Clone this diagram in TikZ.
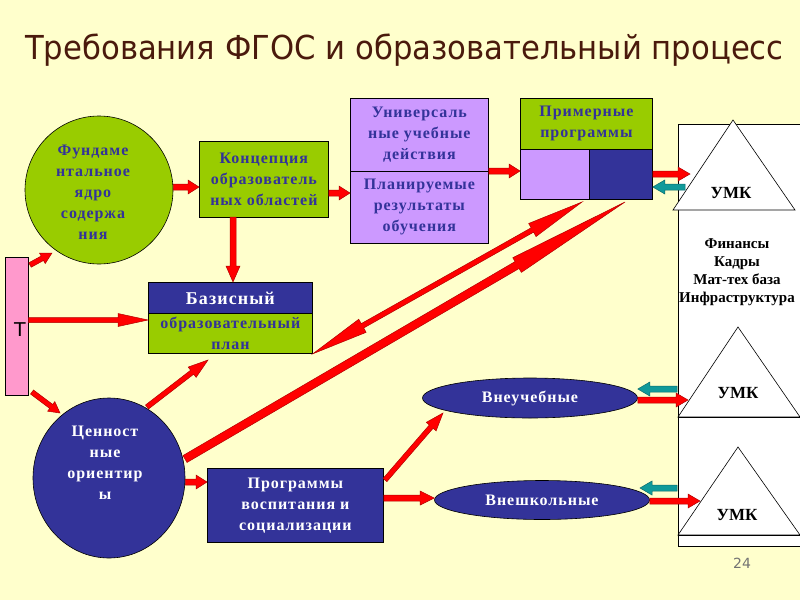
\documentclass[tikz,border=0pt]{standalone}
\usepackage{fontspec}
\setmainfont{Liberation Serif}
\newfontfamily\bxfont[LetterSpace=6]{Liberation Serif}
\newfontfamily\titlefont[FakeStretch=0.93]{DejaVu Sans}
\newfontfamily\numfont{DejaVu Sans}
\usetikzlibrary{arrows.meta,shapes.geometric,calc}
\definecolor{bgc}{HTML}{FFFFCC}
\definecolor{grn}{HTML}{99CC00}
\definecolor{lav}{HTML}{CC99FF}
\definecolor{dbl}{HTML}{333399}
\definecolor{pnk}{HTML}{FF99CC}
\definecolor{tealc}{HTML}{109A9A}
\definecolor{titc}{HTML}{4A1A0C}
\definecolor{arr}{HTML}{FF0000}
\tikzset{
  txt/.style={font=\bxfont\bfseries\fontsize{16}{21}\selectfont, align=center},
  boxbase/.style={draw=black, line width=0.8pt, anchor=north west, inner sep=0pt, txt},
  gbox/.style={boxbase, fill=grn, text=dbl},
  lbox/.style={boxbase, fill=lav, text=dbl},
  bbox/.style={boxbase, fill=dbl, text=white},
  blk/.style={fill=#1, draw=#1!70!black, line width=0.5pt, line join=miter},
  umk/.style={font=\bfseries\fontsize{17}{20}\selectfont, text=black},
  tri/.style={draw=black, line width=0.6pt, fill=white}
}
% block arrow: colour, from, to, half shaft width, head length, half head width
\newcommand{\barrow}[6]{%
  \coordinate (ba-A) at (#2);
  \coordinate (ba-B) at (#3);
  \coordinate (ba-H) at ($(ba-B)!#5!(ba-A)$);
  \path[blk=#1] ($(ba-A)!#4!90:(ba-B)$) -- ($(ba-H)!#4!90:(ba-B)$) -- ($(ba-H)!#6!90:(ba-B)$) -- (ba-B)
    -- ($(ba-H)!#6!-90:(ba-B)$) -- ($(ba-H)!#4!-90:(ba-B)$) -- ($(ba-A)!#4!-90:(ba-B)$) -- cycle;}
% double-headed block arrow
\newcommand{\dbarrow}[6]{%
  \coordinate (ba-A) at (#2);
  \coordinate (ba-B) at (#3);
  \coordinate (ba-H) at ($(ba-B)!#5!(ba-A)$);
  \coordinate (ba-G) at ($(ba-A)!#5!(ba-B)$);
  \path[blk=#1] (ba-A) -- ($(ba-G)!#6!-90:(ba-A)$) -- ($(ba-G)!#4!-90:(ba-A)$) -- ($(ba-H)!#4!90:(ba-B)$) -- ($(ba-H)!#6!90:(ba-B)$) -- (ba-B)
    -- ($(ba-H)!#6!-90:(ba-B)$) -- ($(ba-H)!#4!-90:(ba-B)$) -- ($(ba-G)!#4!90:(ba-A)$) -- ($(ba-G)!#6!90:(ba-A)$) -- cycle;}
\begin{document}
\begin{tikzpicture}[x=1pt,y=-1pt]
\fill[bgc] (0,0) rectangle (800,600);
\useasboundingbox (0,0) rectangle (800,600);

% title
\node[anchor=base west, text=titc, font=\titlefont\fontsize{33}{33}\selectfont, inner sep=0pt] (title) at (25,59) {Требования ФГОС и образовательный процесс};

% right panel
\draw[fill=white, line width=0.6pt] (801,124) -- (678,124) -- (678,546) -- (801,546);
\draw[tri] (733,120) -- (795,210) -- (673,210) -- cycle;
\draw[tri] (738,327) -- (800,417) -- (678,417) -- cycle;
\draw[line width=0.6pt] (678,417) -- (801,417);
\draw[tri] (738,447) -- (800,535) -- (678,535) -- cycle;
\draw[line width=0.6pt] (678,535) -- (801,535);
\node[umk] (umk1) at (731,193) {УМК};
\node[umk] (umk2) at (738,393) {УМК};
\node[umk] (umk3) at (737,515) {УМК};
\node[font=\bfseries\fontsize{15}{18}\selectfont, align=center, text=black] (res) at (737,272) {Финансы\\Кадры\\Мат-тех база\\Инфраструктура};
\coordinate (t1in) at (690,174);
\coordinate (t1out) at (685,187);
\coordinate (t2out) at (677,389);
\coordinate (t2in) at (688,400);
\coordinate (t3out) at (677,488);
\coordinate (t3in) at (700,501);

% left column
\node[draw=black, line width=0.6pt, fill=grn, circle, minimum size=148pt, inner sep=0pt] (fund) at (99,190) {};
\node[txt, text=dbl] (fundt) at (93,192) {Фундаме\\нтальное\\ядро\\содержа\\ния};
\node[draw=black, line width=0.6pt, fill=pnk, anchor=north west, minimum width=23pt, minimum height=138pt, inner sep=0pt] (pink) at (5,257) {};
\node[font=\fontsize{19}{20}\selectfont\numfont] (pinkt) at (20,330) {Т};
\node[draw=black, line width=0.6pt, fill=dbl, ellipse, minimum width=152pt, minimum height=160pt, inner sep=0pt] (cen) at (109,478) {};
\node[txt, text=white] (cent) at (105,463) {Ценност\\ные\\ориентир\\ы};

% boxes
\node[gbox, minimum width=129pt, minimum height=76pt] (konc) at (199,141) {Концепция\\образователь\\ных областей};
\node[lbox, minimum width=138pt, minimum height=73pt] (univ) at (350,98) {Универсаль\\ные учебные\\действия};
\node[lbox, minimum width=138pt, minimum height=72pt] (plan) at (350,171) {Планируемые\\результаты\\обучения};
\node[gbox, minimum width=132pt, minimum height=51pt] (prim) at (520,98) {Примерные\\программы};
\node[lbox, minimum width=69pt, minimum height=50pt] (primA) at (520,149) {};
\node[bbox, minimum width=63pt, minimum height=50pt] (primB) at (589,149) {};
\node[bbox, minimum width=164pt, minimum height=31pt, font=\bxfont\bfseries\fontsize{18}{21}\selectfont] (baz) at (148,282) {Базисный};
\node[gbox, minimum width=164pt, minimum height=40pt] (baz2) at (148,313) {образовательный\\план};
\node[bbox, minimum width=176pt, minimum height=74pt] (prog) at (207,468) {Программы\\воспитания и\\социализации};
\node[draw=black, line width=0.6pt, fill=dbl, ellipse, minimum width=215pt, minimum height=40pt, inner sep=0pt, txt, text=white] (vneu) at (530,398) {Внеучебные};
\node[draw=black, line width=0.6pt, fill=dbl, ellipse, minimum width=215pt, minimum height=39pt, inner sep=0pt, txt, text=white] (vnesh) at (542,500) {Внешкольные};

% page number
\node[font=\numfont\fontsize{14}{14}\selectfont, text=black!55] (pg) at (742,563) {24};

% arrows
\barrow{arr}{fund.east |- 0,187}{konc.west |- 0,187}{3pt}{11pt}{7pt}
\barrow{arr}{konc.east |- 0,193}{univ.west |- 0,193}{3pt}{11pt}{7pt}
\barrow{arr}{plan.north east}{prim.west |- plan.north}{3pt}{11pt}{7pt}
\barrow{arr}{233,217}{baz.north -| 233,0}{3pt}{16pt}{7pt}
\barrow{arr}{30,265}{52,253}{2.5pt}{11pt}{6pt}
\barrow{arr}{pink.east |- 0,320}{baz2.west |- 0,320}{2.5pt}{30pt}{6.5pt}
\barrow{arr}{32,392}{60,413}{2.5pt}{11pt}{6pt}
\barrow{arr}{147,407}{208,360}{2.5pt}{20pt}{6.5pt}
\barrow{arr}{cen.east |- 0,482}{prog.west |- 0,482}{3pt}{11pt}{7pt}
\barrow{arr}{385,480}{443,413}{2.5pt}{18pt}{6.5pt}
\barrow{arr}{prog.east |- 0,498}{vnesh.west |- 0,498}{3pt}{14pt}{7pt}
\dbarrow{arr}{baz2.south east}{582,202}{2.5pt}{57pt}{7.5pt}
\barrow{arr}{185,459}{625,202}{4pt}{125pt}{8.5pt}
% panel arrows
\barrow{arr}{primB.east |- t1in}{t1in}{3pt}{12pt}{7pt}
\barrow{tealc}{t1out}{primB.east |- t1out}{3pt}{12pt}{7pt}
\barrow{tealc}{t2out}{vneu.east |- t2out}{3pt}{12pt}{7pt}
\barrow{arr}{vneu.east |- t2in}{t2in}{3pt}{12pt}{7pt}
\barrow{tealc}{t3out}{640,488}{3pt}{12pt}{7pt}
\barrow{arr}{vnesh.east |- t3in}{t3in}{3pt}{12pt}{7pt}
\end{tikzpicture}
\end{document}
